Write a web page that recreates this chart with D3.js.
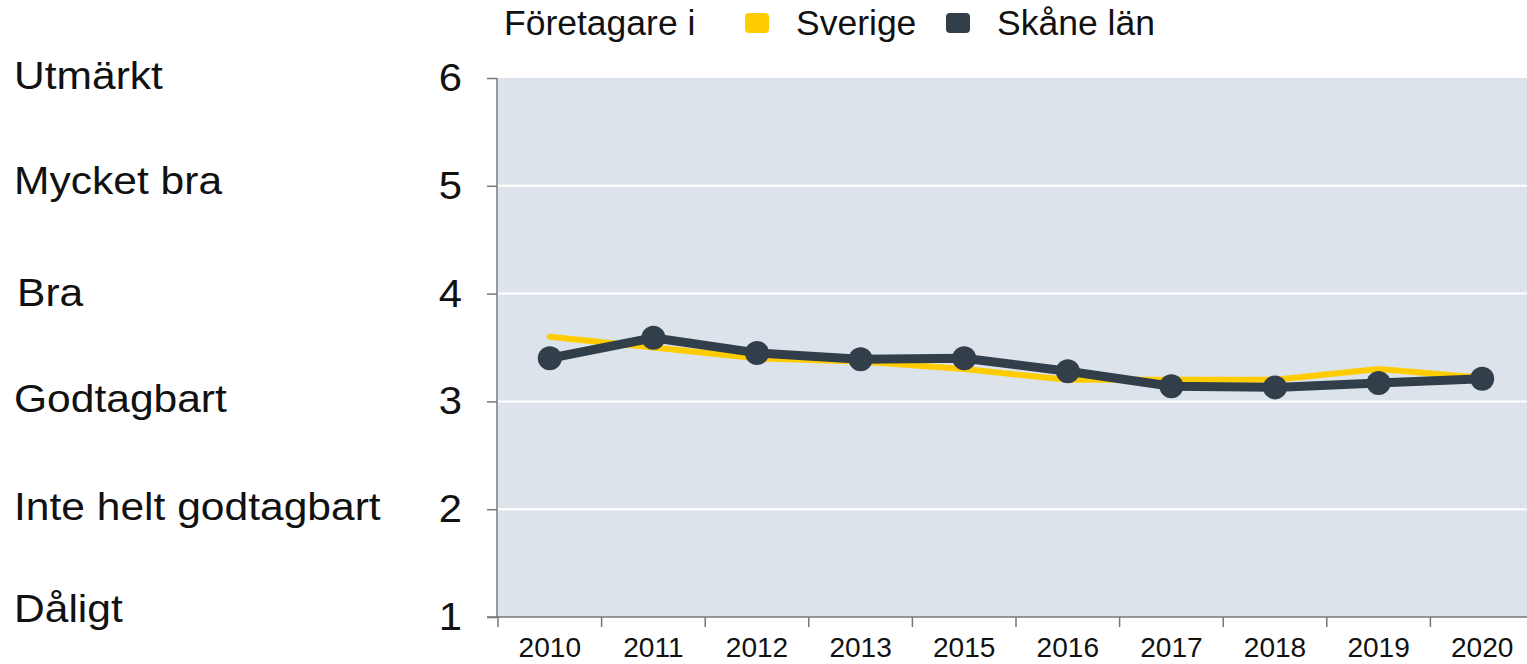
<!DOCTYPE html>
<html>
<head>
<meta charset="utf-8">
<script src="https://cdn.jsdelivr.net/npm/d3@7"></script>
<style>
  body { margin: 0; background: #fff; }
  svg { display: block; font-family: "Liberation Sans", Arial, sans-serif; }
</style>
</head>
<body>
<svg id="chart" width="1527" height="664"></svg>
<script>
const years = ["2010", "2011", "2012", "2013", "2015", "2016", "2017", "2018", "2019", "2020"]
const sverige = [3.6, 3.5, 3.4, 3.37, 3.3, 3.2, 3.2, 3.2, 3.3, 3.22]
const skane = [3.4, 3.59, 3.45, 3.39, 3.4, 3.28, 3.14, 3.13, 3.17, 3.21]
const yTicks = [1, 2, 3, 4, 5, 6]
const grades = ["Dåligt", "Inte helt godtagbart", "Godtagbart", "Bra", "Mycket bra", "Utmärkt"]

const svg = d3.select("#chart")
const plotLeft = 498, plotRight = 1534, plotTop = 78, plotBottom = 617

let x = d3.scaleBand().domain(years).range([plotLeft, plotRight])
let y = d3.scaleLinear().domain([1, 6]).range([plotBottom, plotTop])

svg.append("rect")
    .attr("x", plotLeft).attr("y", plotTop)
    .attr("width", plotRight - plotLeft).attr("height", plotBottom - plotTop)
    .attr("fill", "#dce3ea")

svg.append("g")
    .selectAll("line")
    .data(yTicks.slice(1, 5))
    .join("line")
        .attr("x1", plotLeft).attr("x2", plotRight)
        .attr("y1", d => y(d)).attr("y2", d => y(d))
        .attr("stroke", "#fff").attr("stroke-width", 2)

// axes
let yAxis = svg.append("g")
    .attr("transform", `translate(${plotLeft - 1},0)`)
    .call(d3.axisLeft(y).tickValues(yTicks).tickSize(10).tickFormat(""))
yAxis.selectAll("path, line").attr("stroke", "#777").attr("stroke-width", 1.5)
yAxis.select(".domain").attr("d", `M0,${plotTop}V${plotBottom}`)

let xAxis = svg.append("g")
    .attr("transform", `translate(0,${plotBottom})`)
    .call(d3.axisBottom(x).tickSize(0).tickFormat(""))
xAxis.select(".domain").attr("d", `M${plotLeft - 11},0H${plotRight}`)
    .attr("stroke", "#777").attr("stroke-width", 1.5)
xAxis.selectAll(".tick").remove()
svg.append("g")
    .selectAll("line")
    .data(years)
    .join("line")
        .attr("x1", d => x(d)).attr("x2", d => x(d))
        .attr("y1", plotBottom).attr("y2", plotBottom + 10)
        .attr("stroke", "#777").attr("stroke-width", 1.5)

svg.append("g")
    .selectAll("text")
    .data(years)
    .join("text")
        .attr("transform", d => `translate(${x(d) + x.bandwidth() / 2},657) scale(1.04,1)`)
        .attr("text-anchor", "middle")
        .attr("font-size", 27)
        .attr("fill", "#111")
        .text(d => d)

svg.append("g")
    .selectAll("text")
    .data(yTicks)
    .join("text")
        .attr("transform", d => `translate(462,${y(d) + 13}) scale(1.1,1)`)
        .attr("text-anchor", "end")
        .attr("font-size", 38)
        .attr("fill", "#111")
        .text(d => d)

// the grade names sit slightly off the tick rows in the original
let nudge = [5, 11, 11, 12, 8, 11]
svg.append("g")
    .selectAll("text")
    .data(grades)
    .join("text")
        .attr("transform", (d, i) => `translate(${d === "Bra" ? 17 : 14},${y(i + 1) + nudge[i]}) scale(1.12,1)`)
        .attr("font-size", 38)
        .attr("fill", "#111")
        .text(d => d)

// lines
let cx = (d, i) => x(years[i]) + x.bandwidth() / 2
let line = d3.line().x(cx).y(d => y(d))

svg.append("path")
    .datum(sverige)
    .attr("fill", "none")
    .attr("stroke", "#ffcc00")
    .attr("stroke-width", 6)
    .attr("stroke-linecap", "round")
    .attr("d", line)

svg.append("path")
    .datum(skane)
    .attr("fill", "none")
    .attr("stroke", "#323f4b")
    .attr("stroke-width", 9)
    .attr("d", line)

svg.append("g")
    .selectAll("circle")
    .data(skane)
    .join("circle")
        .attr("cx", cx)
        .attr("cy", d => y(d))
        .attr("r", 12)
        .attr("fill", "#323f4b")

// legend
let legend = svg.append("g")
legend.append("text")
    .attr("x", 504).attr("y", 35)
    .attr("font-size", 35.5).attr("fill", "#111")
    .text("Företagare i")
let items = [{name: "Sverige", color: "#ffcc00", x: 745}, {name: "Skåne län", color: "#323f4b", x: 946}]
for (let it of items) {
    legend.append("rect")
        .attr("x", it.x).attr("y", 13)
        .attr("width", 24).attr("height", 20)
        .attr("rx", 4)
        .attr("fill", it.color)
    legend.append("text")
        .attr("x", it.x + 51).attr("y", 35)
        .attr("font-size", 35.5).attr("fill", "#111")
        .text(it.name)
}
</script>
</body>
</html>
